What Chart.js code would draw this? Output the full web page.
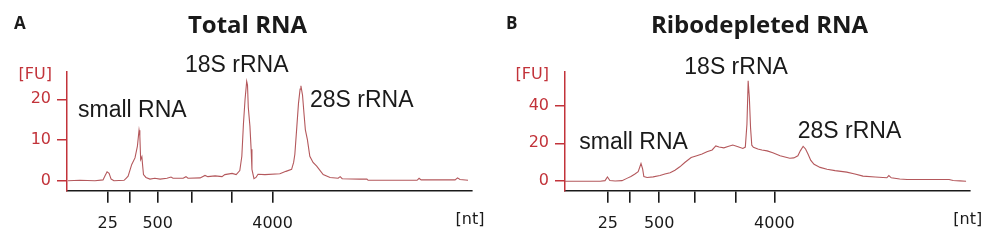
<!DOCTYPE html>
<html>
<head>
<meta charset="utf-8">
<script src="https://cdn.jsdelivr.net/npm/chart.js@4.4.1/dist/chart.umd.min.js"></script>
<style>
  body { margin: 0; background: #fff; }
  .panel { position: absolute; top: 0; width: 496px; height: 240px; }
</style>
</head>
<body>
<div class="panel" style="left:0"><canvas id="chartA" width="496" height="240"></canvas></div>
<div class="panel" style="left:496px"><canvas id="chartB" width="496" height="240"></canvas></div>
<script>
// migration time (0-100, arbitrary units) and fluorescence [FU]
const timeA = [0.2, 3.2, 6.9, 8.9, 9.4, 9.9, 10.4, 10.9, 11.6, 14.1, 14.6, 15.1, 16.0, 16.8, 17.4, 17.8, 18.0, 18.2, 18.5, 18.7, 18.9, 19.5, 20.5, 21.7, 23.0, 24.7, 25.7, 26.2, 28.7, 29.4, 29.9, 32.9, 34.1, 34.8, 36.6, 38.3, 39.0, 40.8, 41.8, 42.7, 43.2, 43.6, 44.0, 44.4, 44.6, 44.8, 45.2, 45.5, 45.7, 46.2, 46.7, 47.2, 48.9, 52.6, 54.1, 55.5, 56.0, 56.3, 56.8, 57.2, 57.6, 57.8, 58.2, 58.6, 58.9, 59.4, 60.0, 60.8, 61.7, 63.3, 65.0, 67.0, 67.5, 68.0, 72.4, 74.1, 74.4, 77.3, 86.5, 87.0, 87.5, 95.9, 96.5, 97.1, 99.1];
const fuA = [0.0, 0.1, 0.0, 0.2, 1.2, 2.2, 1.8, 0.4, 0.0, 0.1, 0.6, 1.1, 4.0, 5.6, 8.5, 12.4, 11.0, 5.2, 5.9, 3.6, 1.5, 0.8, 0.4, 0.6, 0.4, 0.6, 0.9, 0.6, 0.6, 1.0, 0.6, 0.7, 1.3, 1.0, 1.2, 1.0, 1.5, 1.8, 1.5, 2.5, 6.0, 14.0, 20.0, 24.4, 23.5, 18.0, 13.4, 7.7, 2.8, 0.5, 0.8, 1.6, 1.5, 1.7, 2.3, 2.8, 4.5, 6.5, 13.4, 19.0, 22.5, 23.3, 21.0, 16.0, 12.5, 10.1, 6.0, 4.5, 3.6, 1.5, 0.8, 0.6, 1.0, 0.5, 0.4, 0.4, 0.1, 0.1, 0.1, 0.6, 0.2, 0.2, 0.7, 0.3, 0.1];

const timeB = [0.0, 6.2, 8.7, 9.9, 10.5, 11.1, 12.4, 14.1, 15.3, 16.3, 17.3, 18.1, 18.8, 19.2, 19.5, 20.3, 21.8, 23.5, 24.7, 26.0, 27.2, 28.4, 29.7, 31.2, 32.6, 33.9, 35.1, 36.4, 37.3, 38.1, 39.3, 40.3, 41.5, 42.8, 44.0, 44.6, 45.0, 45.2, 45.3, 45.6, 45.9, 46.2, 46.6, 47.7, 48.7, 50.0, 51.4, 53.2, 54.4, 55.6, 56.6, 57.6, 58.2, 58.9, 59.5, 60.1, 60.8, 61.6, 63.1, 64.8, 66.8, 69.7, 71.7, 73.7, 76.7, 79.6, 80.1, 80.7, 82.8, 84.6, 90.3, 95.0, 96.0, 97.7, 99.2];
const fuB = [0.0, 0.0, 0.0, 0.3, 2.2, 0.4, 0.1, 0.3, 1.5, 2.5, 3.8, 5.0, 9.3, 6.5, 2.5, 2.0, 2.3, 3.0, 3.8, 4.5, 5.8, 7.6, 10.0, 12.5, 13.4, 14.3, 15.5, 16.5, 18.6, 18.0, 17.6, 18.3, 19.1, 18.2, 17.3, 18.0, 30.0, 45.0, 53.0, 44.0, 28.0, 19.0, 17.9, 17.0, 16.5, 16.0, 15.0, 13.4, 12.8, 12.1, 12.3, 13.4, 16.0, 18.4, 17.0, 14.3, 11.0, 8.9, 7.3, 6.3, 5.6, 4.8, 3.8, 2.7, 2.2, 1.8, 3.0, 1.8, 1.2, 0.9, 0.9, 0.9, 0.4, 0.2, 0.0];

// ladder marker positions and their labels [nt]
const ladderA = [10.06, 15.4, 22.4, 30.9, 40.8, 50.8];
const ladderB = [10.6, 16.1, 23.3, 32.0, 42.3, 51.8];
const ladderLabels = ['25', '', '500', '', '', '4000'];

const fuTicksA = [0, 10, 20];
const fuTicksB = [0, 20, 40];

const RED = '#c2333a';
const TRACE = '#b4585c';
const INK = '#1a1a1a';

const textPlugin = {
  id: 'panelText',
  afterDraw(chart, args, opts) {
    const ctx = chart.ctx;
    ctx.save();
    opts.items.forEach(t => {
      ctx.font = t.font;
      ctx.fillStyle = t.color || INK;
      ctx.textAlign = t.align || 'left';
      ctx.textBaseline = t.baseline || 'alphabetic';
      ctx.fillText(t.text, t.x, t.y);
    });
    ctx.restore();
  }
};

const labelFont = '23px "Liberation Sans"';
const titleFont = 'bold 24px "Open Sans"';
const letterFont = 'bold 17px "Open Sans"';
const unitFont = '16px "DejaVu Sans"';

function makePanel(id, times, fu, ladder, fuTicks, cfg) {
  const ctx = document.getElementById(id).getContext('2d');
  return new Chart(ctx, {
    type: 'line',
    data: {
      datasets: [{
        data: times.map((t, i) => ({ x: t, y: fu[i] })),
        borderColor: TRACE,
        borderWidth: 1.1,
        pointRadius: 0,
        fill: false,
        tension: 0
      }]
    },
    options: {
      responsive: false,
      animation: false,
      devicePixelRatio: 1,
      layout: { padding: { left: 0, right: cfg.rightPad, top: 72, bottom: 0 } },
      plugins: {
        legend: { display: false },
        tooltip: { enabled: false },
        panelText: { items: cfg.texts }
      },
      scales: {
        x: {
          type: 'linear',
          min: 0,
          max: 100,
          afterBuildTicks: s => { s.ticks = ladder.map(v => ({ value: v })); },
          afterFit: s => { s.height = 49.3; },
          border: { color: INK, width: 1.6 },
          grid: { drawOnChartArea: false, drawTicks: true, tickLength: 12, color: INK, lineWidth: 1.6 },
          ticks: {
            autoSkip: false,
            maxRotation: 0,
            padding: 12,
            color: INK,
            font: { family: 'DejaVu Sans', size: 16 },
            callback: (v, i) => ladderLabels[i]
          }
        },
        y: {
          min: cfg.yMin,
          max: cfg.yMax,
          afterBuildTicks: s => { s.ticks = fuTicks.map(v => ({ value: v })); },
          afterFit: s => { s.width = cfg.left; },
          border: { color: RED, width: 1.5 },
          grid: { drawOnChartArea: false, drawTicks: true, tickLength: 10, color: RED, lineWidth: 1.5 },
          ticks: {
            padding: 6,
            color: RED,
            font: { family: 'DejaVu Sans', size: 16 }
          }
        }
      }
    },
    plugins: [textPlugin]
  });
}

makePanel('chartA', timeA, fuA, ladderA, fuTicksA, {
  left: 67, rightPad: 24.3, yMin: -2.45, yMax: 26.7,
  texts: [
    { text: 'A', x: 14, y: 29, font: letterFont },
    { text: 'Total RNA', x: 247.5, y: 33, font: titleFont, align: 'center' },
    { text: 'small RNA', x: 78, y: 117, font: labelFont },
    { text: '18S rRNA', x: 185, y: 71.5, font: labelFont },
    { text: '28S rRNA', x: 310, y: 106.5, font: labelFont },
    { text: '[FU]', x: 52, y: 75, font: unitFont, color: RED, align: 'right', baseline: 'middle' },
    { text: '[nt]', x: 470, y: 220, font: unitFont, align: 'center', baseline: 'middle' }
  ]
});

makePanel('chartB', timeB, fuB, ladderB, fuTicksB, {
  left: 69, rightPad: 22.7, yMin: -5.0, yMax: 57.6,
  texts: [
    { text: 'B', x: 10, y: 29, font: letterFont },
    { text: 'Ribodepleted RNA', x: 263.5, y: 33, font: titleFont, align: 'center' },
    { text: 'small RNA', x: 83.3, y: 149.3, font: labelFont },
    { text: '18S rRNA', x: 188.3, y: 74, font: labelFont },
    { text: '28S rRNA', x: 301.7, y: 138.3, font: labelFont },
    { text: '[FU]', x: 53, y: 75, font: unitFont, color: RED, align: 'right', baseline: 'middle' },
    { text: '[nt]', x: 471.7, y: 220, font: unitFont, align: 'center', baseline: 'middle' }
  ]
});
</script>
</body>
</html>
